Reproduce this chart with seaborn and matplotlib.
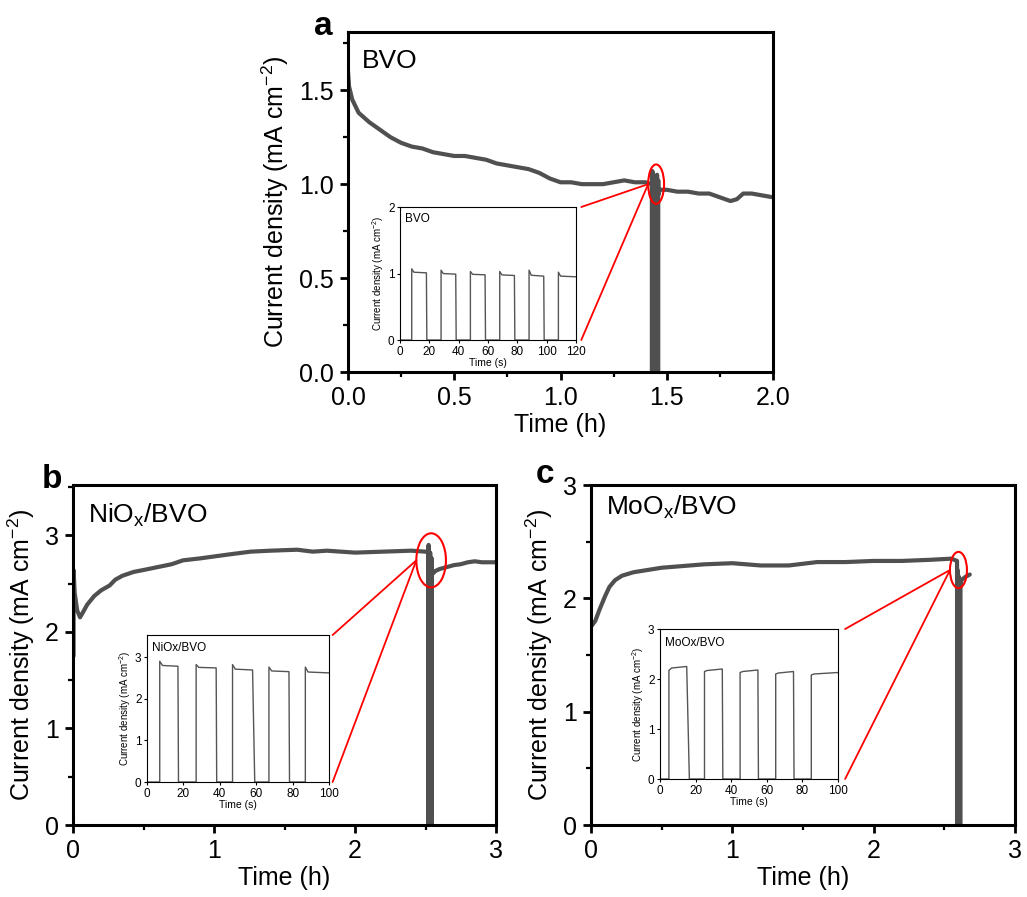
import numpy as np
import pandas as pd
import matplotlib
matplotlib.use("Agg")
import matplotlib.pyplot as plt
import seaborn as sns
from matplotlib.patches import Ellipse, ConnectionPatch
from matplotlib.ticker import MultipleLocator

# ---------------- data ----------------
# Panel a: BVO long-term stability (h, mA cm-2)
bvo_pre_t = [0.0, 0.005, 0.02, 0.05, 0.1, 0.15, 0.2, 0.25, 0.3, 0.35, 0.4, 0.45, 0.5,
             0.55, 0.6, 0.65, 0.7, 0.75, 0.8, 0.85, 0.9, 0.95, 1.0, 1.05, 1.1, 1.15,
             1.2, 1.25, 1.3, 1.35, 1.4, 1.43]
bvo_pre_j = [1.60, 1.52, 1.45, 1.38, 1.33, 1.29, 1.25, 1.22, 1.20, 1.19, 1.17, 1.16, 1.15,
             1.15, 1.14, 1.13, 1.11, 1.10, 1.09, 1.08, 1.06, 1.03, 1.01, 1.01, 1.00, 1.00,
             1.00, 1.01, 1.02, 1.01, 1.01, 1.00]
bvo_post_t = [1.465, 1.5, 1.55, 1.6, 1.65, 1.7, 1.75, 1.8, 1.83, 1.86, 1.9, 1.95, 2.0]
bvo_post_j = [0.97, 0.97, 0.96, 0.96, 0.95, 0.95, 0.93, 0.91, 0.92, 0.95, 0.95, 0.94, 0.93]
bvo_chop_start = 1.43  # h
# BVO chopped-light inset (s)
bvo_on = [8, 28, 48, 68, 88, 108]
bvo_off = [18, 38, 58, 78, 98, 120]
bvo_peak = [1.07, 1.05, 1.03, 1.03, 1.05, 1.02]
bvo_steady = [1.01, 0.99, 0.98, 0.97, 0.96, 0.95]
bvo_fall = [0.3, 0.3, 0.3, 0.3, 0.3, 0.0]

# Panel b: NiOx/BVO
nio_pre_t = [0.004, 0.004, 0.012, 0.03, 0.05, 0.07, 0.1, 0.15, 0.2, 0.26, 0.3, 0.35, 0.43,
             0.5, 0.6, 0.7, 0.78, 0.9, 1.0, 1.1, 1.26, 1.4, 1.59, 1.7, 1.8, 2.0, 2.2,
             2.4, 2.5, 2.52]
nio_pre_j = [1.75, 2.64, 2.40, 2.22, 2.15, 2.20, 2.28, 2.37, 2.43, 2.48, 2.54, 2.58, 2.62,
             2.64, 2.67, 2.70, 2.74, 2.76, 2.78, 2.80, 2.83, 2.84, 2.85, 2.83, 2.84, 2.82,
             2.83, 2.84, 2.83, 2.82]
nio_post_t = [2.55, 2.57, 2.6, 2.65, 2.7, 2.75, 2.8, 2.85, 2.9, 2.95, 3.0]
nio_post_j = [2.60, 2.63, 2.65, 2.67, 2.69, 2.70, 2.72, 2.73, 2.72, 2.72, 2.72]
nio_chop_start = 2.52
nio_on = [7, 27, 47, 67, 87]
nio_off = [17, 38, 58, 78, 100]
nio_peak = [2.90, 2.82, 2.82, 2.76, 2.76]
nio_steady = [2.78, 2.74, 2.69, 2.65, 2.62]
nio_fall = [0.3, 0.3, 1.2, 0.3, 0.0]

# Panel c: MoOx/BVO
moo_pre_t = [0.0, 0.03, 0.06, 0.1, 0.13, 0.17, 0.22, 0.3, 0.4, 0.5, 0.6, 0.8, 1.0, 1.2,
             1.4, 1.6, 1.8, 2.0, 2.2, 2.4, 2.55, 2.59]
moo_pre_j = [1.75, 1.80, 1.90, 2.02, 2.10, 2.16, 2.20, 2.23, 2.25, 2.27, 2.28, 2.30, 2.31,
             2.29, 2.29, 2.32, 2.32, 2.33, 2.33, 2.34, 2.35, 2.33]
moo_post_t = [2.62, 2.65, 2.68]
moo_post_j = [2.16, 2.19, 2.21]
moo_chop_start = 2.59
moo_on = [5, 25, 45, 65, 85]
moo_off = [15, 35, 55, 75, 100]
moo_peak = [2.17, 2.15, 2.13, 2.10, 2.08]     # value right after light on
moo_steady = [2.25, 2.20, 2.18, 2.15, 2.13]   # value just before light off
moo_fall = [1.5, 0.3, 0.3, 0.3, 0.0]


def chop_series(on, off, first, last, fall, t_end):
    t, j = [0.0], [0.0]
    for k in range(len(on)):
        if first[k] > last[k]:
            mid = last[k] + (first[k] - last[k]) * 0.15
        else:
            mid = last[k] - 0.03
        t += [on[k], on[k], on[k] + 1.5, off[k]]
        j += [0.0, first[k], mid, last[k]]
        if off[k] < t_end:
            t += [off[k] + fall[k]]
            j += [0.0]
    return t, j


# ---------------- style ----------------
sns.set_style("ticks")
plt.rcParams['font.family'] = ['Liberation Sans', 'DejaVu Sans']
plt.rcParams['mathtext.fontset'] = 'custom'
plt.rcParams['mathtext.rm'] = 'Liberation Sans'
plt.rcParams['mathtext.it'] = 'Liberation Sans:italic'
plt.rcParams['axes.unicode_minus'] = False
for k in ('text.color', 'axes.labelcolor', 'xtick.color', 'ytick.color', 'axes.edgecolor'):
    plt.rcParams[k] = 'black'

W, H = 1027, 897
fig = plt.figure(figsize=(W / 100, H / 100), dpi=100)

LINE = '#505050'
FS = 18


def fbox(l, t, r, b):
    return [l / W, 1 - b / H, (r - l) / W, (b - t) / H]


def style_main(ax, xlim, ylim, xmaj, xmin, ymaj, ymin):
    ax.set_xlim(*xlim)
    ax.set_ylim(*ylim)
    ax.xaxis.set_major_locator(MultipleLocator(xmaj))
    ax.xaxis.set_minor_locator(MultipleLocator(xmin))
    ax.yaxis.set_major_locator(MultipleLocator(ymaj))
    ax.yaxis.set_minor_locator(MultipleLocator(ymin))
    for s in ax.spines.values():
        s.set_linewidth(2.2)
        s.set_color('black')
    ax.tick_params(which='major', direction='out', length=6, width=2, labelsize=FS, pad=4,
                   colors='black')
    ax.tick_params(which='minor', direction='out', length=3.5, width=1.6, colors='black')
    ax.set_xlabel('Time (h)', fontsize=FS, labelpad=2, color='black')
    ax.set_ylabel('Current density (mA cm$^{-2}$)', fontsize=FS, labelpad=6, color='black')


def style_inset(ax, xlim, ylim, xt, yt, label):
    ax.set_xlim(*xlim)
    ax.set_ylim(*ylim)
    ax.set_xticks(xt)
    ax.set_yticks(yt)
    for s in ax.spines.values():
        s.set_linewidth(0.8)
        s.set_color('black')
    ax.tick_params(which='major', direction='out', length=2.5, width=0.8, labelsize=8.5, pad=1.5,
                   colors='black')
    ax.set_xlabel('Time (s)', fontsize=7.5, labelpad=0, color='black')
    ax.set_ylabel('Current density (mA cm$^{-2}$)', fontsize=7, labelpad=1, color='black')
    ax.text(0.03, 0.89, label, transform=ax.transAxes, fontsize=8.5, va='baseline', ha='left',
            color='black')


def draw_panel(ax_box, in_box, pre_t, pre_j, post_t, post_j, chop_start, on, off, first, last,
               fall, t_end_s, xlim, ylim, xmaj, xmin, ymaj, ymin, in_ylim, in_xt, in_yt,
               main_label, in_label, label_pos, ell, conn_off):
    ax = fig.add_axes(fbox(*ax_box))
    ins_t, ins_j = chop_series(on, off, first, last, fall, t_end_s)
    main_t = list(pre_t) + [chop_start + s / 3600 for s in ins_t] + list(post_t)
    main_j = list(pre_j) + ins_j + list(post_j)
    df = pd.DataFrame({'t': main_t, 'j': main_j})
    sns.lineplot(data=df, x='t', y='j', sort=False, estimator=None, color=LINE, lw=3.0, ax=ax)
    style_main(ax, xlim, ylim, xmaj, xmin, ymaj, ymin)
    ax.text(label_pos[0], label_pos[1], main_label, transform=ax.transAxes, fontsize=19,
            va='baseline', ha='left', color='black')

    ia = fig.add_axes(fbox(*in_box))
    dfi = pd.DataFrame({'t': ins_t, 'j': ins_j})
    sns.lineplot(data=dfi, x='t', y='j', sort=False, estimator=None, color='#555555', lw=1.0, ax=ia)
    style_inset(ia, (0, t_end_s), in_ylim, in_xt, in_yt, in_label)

    cx, cy, w, h = ell
    ax.add_patch(Ellipse((cx, cy), w, h, fill=False, ec='red', lw=1.5, zorder=5))
    for yb in (1.0, 0.0):
        con = ConnectionPatch(xyA=(cx - w / 2, cy), coordsA=ax.transData,
                              xyB=(1 + conn_off, yb), coordsB=ia.transAxes,
                              color='red', lw=1.3, zorder=6)
        fig.add_artist(con)
    return ax


# Panel a
draw_panel((348, 32, 773, 372), (400, 207, 576, 340),
           bvo_pre_t, bvo_pre_j, bvo_post_t, bvo_post_j, bvo_chop_start,
           bvo_on, bvo_off, bvo_peak, bvo_steady, bvo_fall, 120,
           (0, 2.0), (0, 1.81), 0.5, 0.25, 0.5, 0.25, (0, 2),
           [0, 20, 40, 60, 80, 100, 120], [0, 1, 2], 'BVO', 'BVO', (0.033, 0.894),
           (1.45, 1.0, 0.075, 0.21), 0.03)

# Panel b
draw_panel((73, 485, 496, 825), (147, 635, 329, 782),
           nio_pre_t, nio_pre_j, nio_post_t, nio_post_j, nio_chop_start,
           nio_on, nio_off, nio_peak, nio_steady, nio_fall, 100,
           (0, 3), (0, 3.52), 1, 0.5, 1, 0.5, (0, 3.53),
           [0, 20, 40, 60, 80, 100], [0, 1, 2, 3], 'NiO$_{\\mathrm{x}}$/BVO', 'NiOx/BVO',
           (0.035, 0.888), (2.54, 2.74, 0.21, 0.56), 0.02)

# Panel c
draw_panel((591, 485, 1015, 825), (660, 629, 838, 779),
           moo_pre_t, moo_pre_j, moo_post_t, moo_post_j, moo_chop_start,
           moo_on, moo_off, moo_peak, moo_steady, moo_fall, 100,
           (0, 3), (0, 3.0), 1, 0.5, 1, 0.5, (0, 3),
           [0, 20, 40, 60, 80, 100], [0, 1, 2, 3], 'MoO$_{\\mathrm{x}}$/BVO', 'MoOx/BVO',
           (0.035, 0.912), (2.60, 2.25, 0.12, 0.32), 0.04)

# panel letters
for txt, x, y in (('a', 323, 35), ('b', 52, 488), ('c', 545, 483)):
    fig.text(x / W, 1 - y / H, txt, fontsize=24, fontweight='bold', ha='center', va='baseline',
             color='black')

fig.savefig('out.png', dpi=100)
